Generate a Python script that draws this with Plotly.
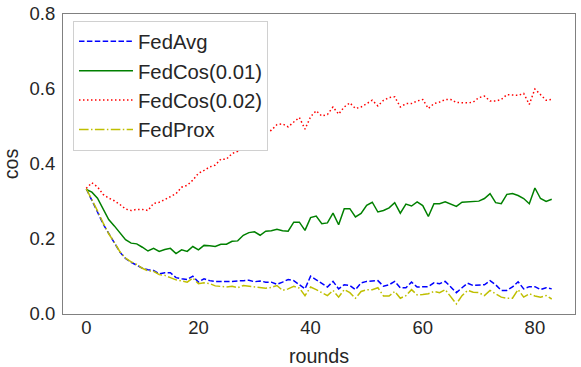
import plotly.graph_objects as go

rounds = list(range(84))

fedavg = [0.334, 0.305, 0.272, 0.240, 0.213, 0.190, 0.165, 0.148, 0.138, 0.131,
          0.122, 0.118, 0.116, 0.107, 0.110, 0.110, 0.097, 0.094, 0.092, 0.101,
          0.085, 0.094, 0.089, 0.087, 0.086, 0.087, 0.087, 0.087, 0.089, 0.090,
          0.086, 0.088, 0.085, 0.085, 0.079, 0.085, 0.092, 0.089, 0.079, 0.067,
          0.101, 0.092, 0.081, 0.072, 0.087, 0.067, 0.078, 0.076, 0.065, 0.083,
          0.087, 0.087, 0.089, 0.074, 0.078, 0.087, 0.070, 0.070, 0.085, 0.072,
          0.072, 0.073, 0.083, 0.081, 0.087, 0.072, 0.057, 0.070, 0.082, 0.076,
          0.078, 0.078, 0.089, 0.078, 0.063, 0.063, 0.072, 0.086, 0.067, 0.073,
          0.073, 0.065, 0.070, 0.067]

fedcos_001 = [0.332, 0.325, 0.309, 0.280, 0.252, 0.235, 0.216, 0.198, 0.189, 0.187,
              0.178, 0.168, 0.175, 0.167, 0.172, 0.175, 0.161, 0.171, 0.167, 0.180,
              0.171, 0.183, 0.182, 0.180, 0.186, 0.186, 0.194, 0.195, 0.210, 0.217,
              0.219, 0.210, 0.221, 0.222, 0.226, 0.222, 0.221, 0.245, 0.245, 0.223,
              0.257, 0.261, 0.241, 0.243, 0.269, 0.238, 0.281, 0.281, 0.259, 0.268,
              0.290, 0.298, 0.272, 0.276, 0.283, 0.297, 0.269, 0.293, 0.288, 0.299,
              0.289, 0.260, 0.294, 0.294, 0.299, 0.292, 0.287, 0.298, 0.299, 0.301,
              0.301, 0.308, 0.321, 0.297, 0.294, 0.319, 0.321, 0.316, 0.308, 0.294,
              0.336, 0.308, 0.300, 0.306]

fedcos_002 = [0.335, 0.350, 0.339, 0.319, 0.309, 0.302, 0.292, 0.280, 0.276, 0.279,
              0.279, 0.276, 0.295, 0.298, 0.305, 0.312, 0.321, 0.338, 0.343, 0.357,
              0.375, 0.383, 0.392, 0.397, 0.413, 0.413, 0.428, 0.434, 0.450, 0.460,
              0.468, 0.476, 0.485, 0.490, 0.505, 0.507, 0.499, 0.512, 0.524, 0.493,
              0.526, 0.542, 0.528, 0.532, 0.552, 0.533, 0.552, 0.563, 0.548, 0.552,
              0.561, 0.570, 0.555, 0.570, 0.577, 0.579, 0.552, 0.561, 0.561, 0.568,
              0.572, 0.548, 0.561, 0.565, 0.572, 0.572, 0.564, 0.563, 0.563, 0.565,
              0.577, 0.581, 0.568, 0.568, 0.572, 0.585, 0.583, 0.583, 0.588, 0.559,
              0.600, 0.585, 0.570, 0.572]

fedprox = [0.334, 0.306, 0.275, 0.243, 0.214, 0.191, 0.166, 0.149, 0.139, 0.132,
           0.122, 0.115, 0.114, 0.105, 0.103, 0.097, 0.091, 0.088, 0.085, 0.096,
           0.081, 0.083, 0.081, 0.075, 0.073, 0.072, 0.074, 0.070, 0.076, 0.074,
           0.071, 0.069, 0.069, 0.071, 0.076, 0.063, 0.067, 0.074, 0.069, 0.049,
           0.072, 0.065, 0.057, 0.049, 0.063, 0.045, 0.065, 0.057, 0.042, 0.060,
           0.065, 0.065, 0.070, 0.048, 0.048, 0.060, 0.042, 0.049, 0.065, 0.051,
           0.052, 0.054, 0.060, 0.057, 0.065, 0.045, 0.027, 0.049, 0.063, 0.058,
           0.057, 0.049, 0.063, 0.054, 0.045, 0.042, 0.042, 0.065, 0.045, 0.054,
           0.048, 0.045, 0.049, 0.040]

series_names = ["FedAvg", "FedCos(0.01)", "FedCos(0.02)", "FedProx"]
x_ticks = [0, 20, 40, 60, 80]
y_ticks = [0.0, 0.2, 0.4, 0.6, 0.8]

styles = [
    dict(color="#0000ff", dash="5.5px,2.4px"),
    dict(color="#008000", dash="solid"),
    dict(color="#ff0000", dash="1.5px,2.5px"),
    dict(color="#bfbf00", dash="9.6px,2.4px,1.5px,2.4px"),
]

fig = go.Figure()
for name, ys, st in zip(series_names, [fedavg, fedcos_001, fedcos_002, fedprox], styles):
    fig.add_trace(go.Scatter(
        x=rounds, y=ys, mode="lines", name=name,
        line=dict(color=st["color"], dash=st["dash"], width=1.5),
    ))

font_fam = "Liberation Sans, Arial, sans-serif"
txt = "#262626"
fs_tick = 18.5
fs_title = 19.7
fs_leg = 20.3
fig.update_layout(
    width=581, height=367,
    margin=dict(l=63, r=6, t=14, b=53),
    paper_bgcolor="white", plot_bgcolor="white",
    font=dict(family=font_fam, size=fs_tick, color=txt),
    showlegend=True,
    legend=dict(
        x=0.0195, y=0.978, xanchor="left", yanchor="top",
        bgcolor="white", bordercolor="#d0d0d0", borderwidth=1,
        font=dict(family=font_fam, size=fs_leg, color=txt),
        tracegroupgap=0, itemwidth=54,
    ),
    xaxis=dict(
        range=[-4.15, 87.15], tickvals=x_ticks, ticks="", showgrid=False,
        zeroline=False, showline=True, linecolor="#808080", linewidth=1.25, mirror=True,
        title=dict(text="rounds", font=dict(size=fs_title, color=txt), standoff=18),
        tickfont=dict(size=fs_tick, color=txt), automargin=False, ticklabelstandoff=-3,
        ticklabeloverflow="allow",
    ),
    yaxis=dict(
        range=[0, 0.8], tickvals=y_ticks, tickformat=".1f", ticks="", showgrid=False,
        zeroline=False, showline=True, linecolor="#808080", linewidth=1.25, mirror=True,
        title=dict(text="cos", font=dict(size=fs_title, color=txt), standoff=8),
        tickfont=dict(size=fs_tick, color=txt), automargin=False, ticklabelstandoff=3,
        ticklabeloverflow="allow",
    ),
)

# remove the default 8px page margin so the figure sits at the window's top-left corner
fig.write_html("out.html", config={"displayModeBar": False},
               post_script="document.body.style.margin='0';")
